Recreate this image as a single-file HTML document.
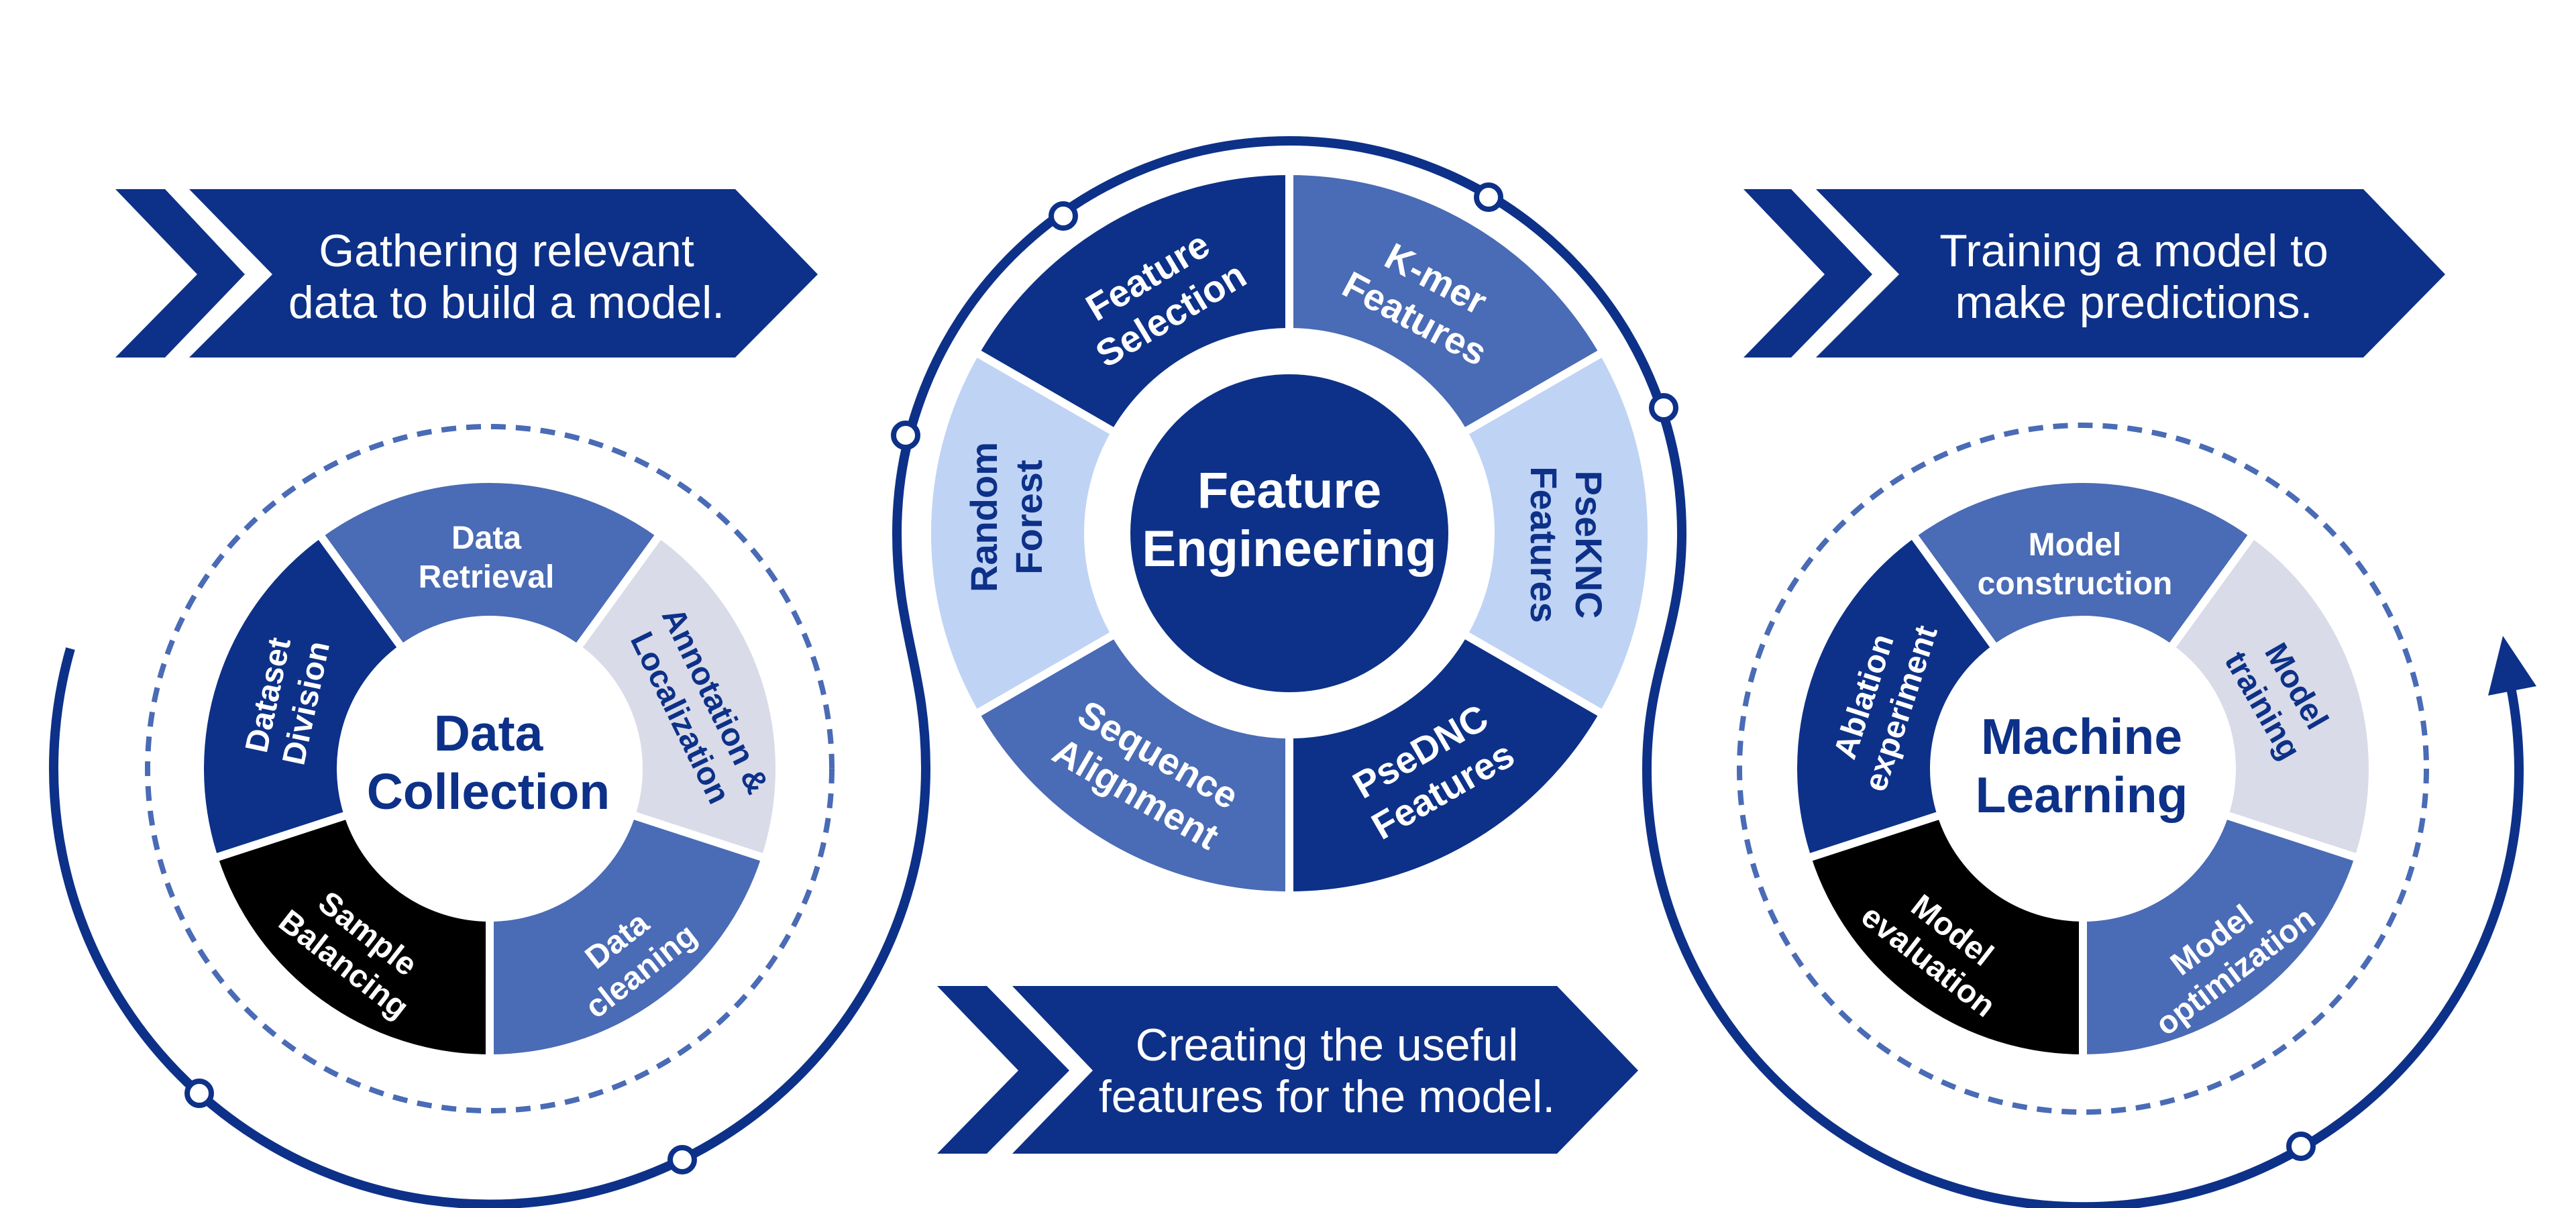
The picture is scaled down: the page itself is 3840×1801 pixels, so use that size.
<!DOCTYPE html>
<html><head><meta charset="utf-8"><style>
html,body{margin:0;padding:0;background:#fff;}
svg{display:block;}
text{font-family:"Liberation Sans",Arial,sans-serif;}
</style></head><body>
<svg width="3840" height="1801" viewBox="0 0 3840 1801" xmlns="http://www.w3.org/2000/svg">
<defs>
<path id="s5" d="M179.6,-130.5 L349.5,-253.9 A432,432 0 0 1 349.5,253.9 L179.6,130.5 A222,222 0 0 0 179.6,-130.5 Z"/>
<path id="s6" d="M259.8,-150 L467.7,-270 A540,540 0 0 1 467.7,270 L259.8,150 A300,300 0 0 0 259.8,-150 Z"/>
</defs>
<rect width="3840" height="1801" fill="#fff"/>

<polygon points="172,282 246,282 365,409 246,533 172,533 294,409" fill="#0d3188"/>
<polygon points="282,282 1096,282 1219,409 1096,533 282,533 406,409" fill="#0d3188"/>
<text x="755" y="397" font-size="68" fill="#fff" text-anchor="middle">Gathering relevant</text>
<text x="755" y="474" font-size="68" fill="#fff" text-anchor="middle">data to build a model.</text>

<polygon points="2599,282 2670,282 2791,409 2670,533 2599,533 2720,409" fill="#0d3188"/>
<polygon points="2707,282 3523,282 3645,409 3523,533 2707,533 2831,409" fill="#0d3188"/>
<text x="3181" y="397" font-size="68" fill="#fff" text-anchor="middle">Training a model to</text>
<text x="3181" y="474" font-size="68" fill="#fff" text-anchor="middle">make predictions.</text>

<polygon points="1397,1470 1471,1470 1594,1596 1471,1720 1397,1720 1518,1596" fill="#0d3188"/>
<polygon points="1509,1470 2321,1470 2442,1596 2321,1720 1509,1720 1629,1596" fill="#0d3188"/>
<text x="1978" y="1581" font-size="68" fill="#fff" text-anchor="middle">Creating the useful</text>
<text x="1978" y="1658" font-size="68" fill="#fff" text-anchor="middle">features for the model.</text>

<path d="M105,967 A650,650 0 1 0 1380,1146 C1380,1000 1337,940 1337,795 A585,585 0 0 1 2507,795 C2507,940 2455,1000 2455,1146 A650,650 0 1 0 3743,1025" fill="none" stroke="#0d3188" stroke-width="14"/>
<polygon points="3731,948 3709,1037 3781,1023" fill="#0d3188"/>
<g fill="#fff" stroke="#0d3188" stroke-width="8">
<circle cx="297" cy="1630" r="18"/>
<circle cx="1017" cy="1729" r="18"/>
<circle cx="1350" cy="649" r="18"/>
<circle cx="1585" cy="322" r="18"/>
<circle cx="2219" cy="294" r="18"/>
<circle cx="2480" cy="608" r="18"/>
<circle cx="3430" cy="1709" r="18"/>
</g>

<circle cx="730" cy="1146" r="510" fill="none" stroke="#4a6bb5" stroke-width="8" stroke-dasharray="22 15"/>
<circle cx="3105" cy="1146" r="512" fill="none" stroke="#4a6bb5" stroke-width="8" stroke-dasharray="22 15"/>

<g transform="translate(730,1146)" stroke="#fff" stroke-width="12">
<use href="#s5" transform="rotate(-90)" fill="#4a6bb5"/>
<use href="#s5" transform="rotate(-18)" fill="#d9dbe8"/>
<use href="#s5" transform="rotate(54)" fill="#4a6bb5"/>
<use href="#s5" transform="rotate(126)" fill="#000"/>
<use href="#s5" transform="rotate(198)" fill="#0d3188"/>
</g>
<g font-weight="bold" font-size="48" text-anchor="middle">
<text transform="translate(725,830)" fill="#fff"><tspan x="0" y="-12">Data</tspan><tspan x="0" y="46">Retrieval</tspan></text>
<text transform="translate(1041,1057) rotate(64)" fill="#0d3188"><tspan x="0" y="-12">Annotation &amp;</tspan><tspan x="0" y="46">Localization</tspan></text>
<text transform="translate(937,1424) rotate(-38)" fill="#fff"><tspan x="0" y="-12">Data</tspan><tspan x="0" y="46">cleaning</tspan></text>
<text transform="translate(531,1414) rotate(38)" fill="#fff"><tspan x="0" y="-12">Sample</tspan><tspan x="0" y="46">Balancing</tspan></text>
<text transform="translate(427,1042) rotate(-78)" fill="#fff"><tspan x="0" y="-12">Dataset</tspan><tspan x="0" y="46">Division</tspan></text>
</g>
<g font-weight="bold" font-size="75" fill="#0d3188" text-anchor="middle">
<text x="728" y="1119">Data</text>
<text x="728" y="1206">Collection</text>
</g>

<g transform="translate(3105,1146)" stroke="#fff" stroke-width="12">
<use href="#s5" transform="rotate(-90)" fill="#4a6bb5"/>
<use href="#s5" transform="rotate(-18)" fill="#d9dbe8"/>
<use href="#s5" transform="rotate(54)" fill="#4a6bb5"/>
<use href="#s5" transform="rotate(126)" fill="#000"/>
<use href="#s5" transform="rotate(198)" fill="#0d3188"/>
</g>
<g font-weight="bold" font-size="48" text-anchor="middle">
<text transform="translate(3093,840)" fill="#fff"><tspan x="0" y="-12">Model</tspan><tspan x="0" y="46">construction</tspan></text>
<text transform="translate(3399,1037) rotate(60)" fill="#0d3188"><tspan x="0" y="-12">Model</tspan><tspan x="0" y="46">training</tspan></text>
<text transform="translate(3314,1424) rotate(-37)" fill="#fff"><tspan x="0" y="-12">Model</tspan><tspan x="0" y="46">optimization</tspan></text>
<text transform="translate(2893,1409) rotate(38)" fill="#fff"><tspan x="0" y="-12">Model</tspan><tspan x="0" y="46">evaluation</tspan></text>
<text transform="translate(2805,1047) rotate(-72)" fill="#fff"><tspan x="0" y="-12">Ablation</tspan><tspan x="0" y="46">experiment</tspan></text>
</g>
<g font-weight="bold" font-size="75" fill="#0d3188" text-anchor="middle">
<text x="3103" y="1124">Machine</text>
<text x="3103" y="1211">Learning</text>
</g>

<g transform="translate(1922,795)" stroke="#fff" stroke-width="12">
<use href="#s6" transform="rotate(-120)" fill="#0d3188"/>
<use href="#s6" transform="rotate(-60)" fill="#4a6bb5"/>
<use href="#s6" transform="rotate(0)" fill="#bfd3f5"/>
<use href="#s6" transform="rotate(60)" fill="#0d3188"/>
<use href="#s6" transform="rotate(120)" fill="#4a6bb5"/>
<use href="#s6" transform="rotate(180)" fill="#bfd3f5"/>
</g>
<circle cx="1922" cy="795" r="237" fill="#0d3188"/>
<g font-weight="bold" font-size="56" text-anchor="middle">
<text transform="translate(1728,440) rotate(-31)" fill="#fff"><tspan x="0" y="-14">Feature</tspan><tspan x="0" y="53">Selection</tspan></text>
<text transform="translate(2125,445) rotate(28)" fill="#fff"><tspan x="0" y="-14">K-mer</tspan><tspan x="0" y="53">Features</tspan></text>
<text transform="translate(2335,812) rotate(90)" fill="#0d3188"><tspan x="0" y="-14">PseKNC</tspan><tspan x="0" y="53">Features</tspan></text>
<text transform="translate(2134,1149) rotate(-30)" fill="#fff"><tspan x="0" y="-14">PseDNC</tspan><tspan x="0" y="53">Features</tspan></text>
<text transform="translate(1710,1154) rotate(30)" fill="#fff"><tspan x="0" y="-14">Sequence</tspan><tspan x="0" y="53">Alignment</tspan></text>
<text transform="translate(1500,771) rotate(-90)" fill="#0d3188"><tspan x="0" y="-14">Random</tspan><tspan x="0" y="53">Forest</tspan></text>
</g>
<g font-weight="bold" font-size="76" fill="#fff" text-anchor="middle">
<text x="1922" y="757">Feature</text>
<text x="1922" y="844">Engineering</text>
</g>
</svg>
</body></html>
